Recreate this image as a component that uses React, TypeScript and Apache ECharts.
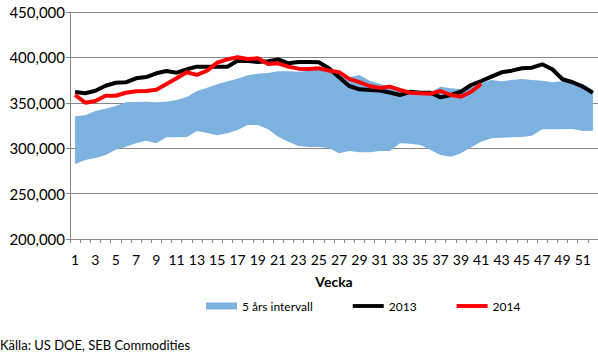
import React, { useEffect, useRef } from "react";
import * as echarts from "echarts";

const weeks: string[] = Array.from({ length: 52 }, (_, i) => String(i + 1));

const bandLower: number[] = [
  282600, 287000, 289200, 292500, 298300, 301700, 305400, 308300, 305400, 312000,
  312000, 312300, 319000, 316700, 314200, 316400, 320000, 325600, 325600, 320800,
  312700, 307200, 302400, 301300, 301300, 300200, 294400, 296900, 295500, 295500,
  297000, 297000, 305400, 305000, 303500, 298000, 292500, 290600, 294400, 301000,
  307200, 310900, 311600, 312000, 312300, 313800, 320800, 320800, 320800, 321200,
  319000, 319300,
];

const bandUpper: number[] = [
  335100, 336200, 341000, 343500, 346500, 350600, 350900, 351200, 350600, 351200,
  353100, 356500, 363000, 366700, 370400, 373600, 376600, 380300, 382100, 382800,
  384700, 384700, 384300, 385400, 386900, 386100, 382500, 378100, 380600, 374400,
  371000, 367800, 364100, 363400, 362200, 361500, 367800, 366000, 364800, 367800,
  372200, 375100, 373600, 375100, 376200, 375100, 374400, 372600, 373600, 373300,
  370700, 364100,
];

const series2013: number[] = [
  361900, 360500, 363300, 368800, 372100, 372600, 377000, 378400, 382500, 385000,
  383200, 386900, 389800, 389800, 389800, 389800, 396400, 396000, 394900, 395700,
  397800, 393500, 394900, 394900, 394600, 388000, 378100, 368500, 364800, 364100,
  363500, 361300, 358600, 362200, 361100, 361100, 356000, 358600, 362200, 369600,
  374000, 378800, 383600, 385400, 388000, 388700, 392400, 386900, 375900, 372600,
  367800, 361100,
];

const series2014: number[] = [
  358600, 350100, 352000, 357800, 357800, 361100, 362700, 363000, 364400, 370700,
  377000, 383700, 380800, 385400, 394200, 397800, 400100, 398200, 399000, 392700,
  393500, 389800, 387600, 387200, 388000, 385400, 383800, 376400, 372800, 368500,
  366400, 367800, 364100, 361100, 360400, 360000, 363000, 358600, 356700, 362200,
  370700,
];

const BAND_NAME = "5 års intervall";
const NAME_2013 = "2013";
const NAME_2014 = "2014";
const SOURCE_TEXT = "Källa: US DOE, SEB Commodities";
const X_NAME = "Vecka";

const FONT = "Lato, 'Open Sans', sans-serif";
const BLUE = "#7db2e0";
const GRID_GRAY = "#878787";
const LINE_ICON = "path://M0,0H32V4H0Z";

export default function App() {
  const ref = useRef<HTMLDivElement>(null);

  useEffect(() => {
    if (!ref.current) return;
    const chart = echarts.init(ref.current, undefined, { renderer: "svg" });
    const bandRange = bandUpper.map((u, i) => u - bandLower[i]);

    chart.setOption({
      animation: false,
      textStyle: { fontFamily: FONT },
      grid: { left: 70, right: 0, top: 12, bottom: 119, containLabel: false },
      legend: {
        left: 201,
        top: 295,
        itemGap: 40,
        itemWidth: 31,
        itemHeight: 7,
        textStyle: { fontFamily: FONT, fontSize: 12, color: "#000" },
        data: [
          { name: BAND_NAME, icon: "rect", itemStyle: { color: BLUE } },
          { name: NAME_2013, icon: LINE_ICON, itemStyle: { color: "#000000" } },
          { name: NAME_2014, icon: LINE_ICON, itemStyle: { color: "#ff0000" } },
        ],
      },
      xAxis: {
        type: "category",
        data: weeks,
        boundaryGap: true,
        name: X_NAME,
        nameLocation: "middle",
        nameGap: 35,
        nameTextStyle: { fontFamily: FONT, fontSize: 14, fontWeight: "bold", color: "#000" },
        axisLine: { show: true, lineStyle: { color: GRID_GRAY, width: 1 } },
        axisTick: { show: true, interval: 0, length: 4, lineStyle: { color: GRID_GRAY } },
        axisLabel: { interval: 1, margin: 13, fontSize: 14, color: "#000", fontFamily: FONT },
        splitLine: { show: false },
      },
      yAxis: {
        type: "value",
        min: 200000,
        max: 450000,
        interval: 50000,
        axisLine: { show: true, lineStyle: { color: GRID_GRAY, width: 1 } },
        axisTick: { show: true, length: 4, lineStyle: { color: GRID_GRAY } },
        axisLabel: {
          margin: 5,
          fontSize: 15,
          color: "#000",
          fontFamily: FONT,
          formatter: (v: number) => v.toLocaleString("en-US"),
        },
        splitLine: { show: true, lineStyle: { color: GRID_GRAY, width: 1 } },
      },
      series: [
        {
          name: "lower",
          type: "line",
          stack: "band",
          data: bandLower,
          symbol: "none",
          silent: true,
          lineStyle: { width: 0, opacity: 0 },
          itemStyle: { color: "transparent" },
        },
        {
          name: BAND_NAME,
          type: "line",
          stack: "band",
          data: bandRange,
          symbol: "none",
          silent: true,
          color: BLUE,
          lineStyle: { width: 0, opacity: 0 },
          areaStyle: { color: BLUE, opacity: 1 },
        },
        {
          name: NAME_2013,
          type: "line",
          data: series2013,
          symbol: "none",
          color: "#000000",
          lineStyle: { color: "#000000", width: 4 },
        },
        {
          name: NAME_2014,
          type: "line",
          data: series2014,
          symbol: "none",
          color: "#ff0000",
          lineStyle: { color: "#ff0000", width: 4 },
        },
      ],
      graphic: [
        {
          type: "text",
          left: 0,
          top: 338,
          style: {
            text: SOURCE_TEXT,
            fontFamily: FONT,
            fontSize: 13,
            fill: "#000",
          },
        },
      ],
    });

    return () => chart.dispose();
  }, []);

  return (
    <div
      ref={ref}
      style={{ position: "fixed", left: 0, top: 0, width: 598, height: 358, background: "#fff" }}
    />
  );
}
